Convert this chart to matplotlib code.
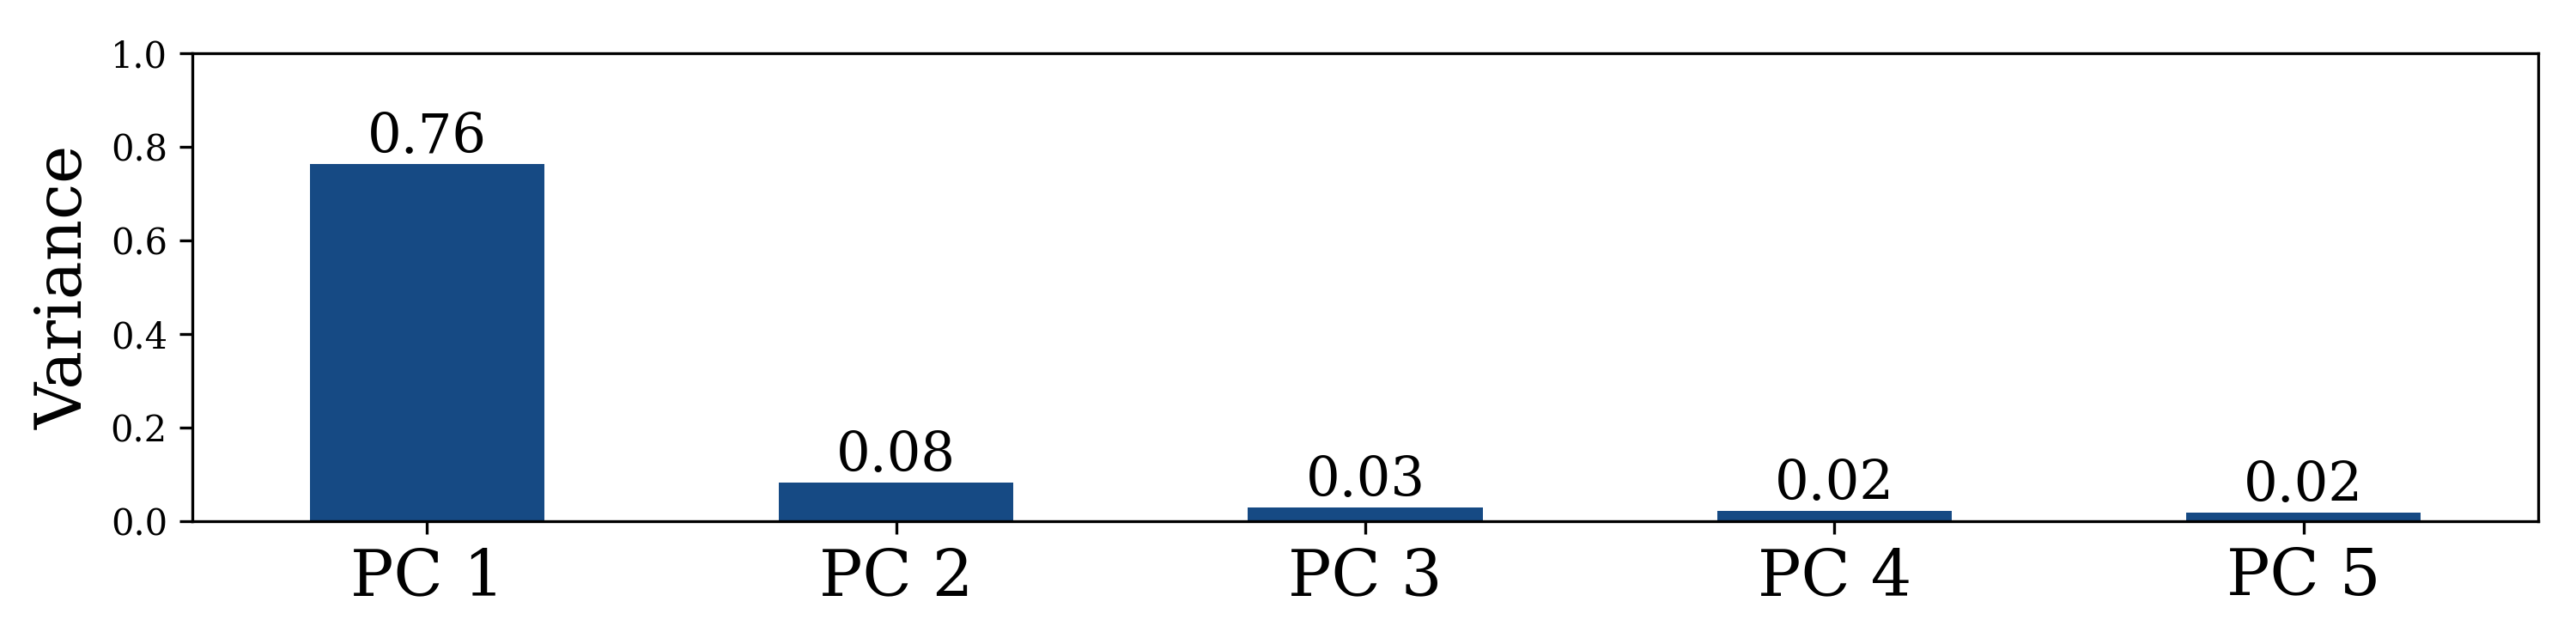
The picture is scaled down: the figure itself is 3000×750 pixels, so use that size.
import numpy as np
import matplotlib
matplotlib.use("Agg")
import matplotlib.pyplot as plt

plt.rcParams['font.family'] = 'DejaVu Serif'

components = ["PC 1", "PC 2", "PC 3", "PC 4", "PC 5"]
variance = [0.763, 0.083, 0.029, 0.022, 0.018]
labels = ["0.76", "0.08", "0.03", "0.02", "0.02"]

fig, ax = plt.subplots(figsize=(10, 2.5), dpi=300)
fig.subplots_adjust(left=0.0747, right=0.9853, top=0.9173, bottom=0.1907)

x_axis = np.arange(len(components))
ax.bar(x_axis, variance, width=0.5, color='#164a84')
for i, v in enumerate(variance):
	ax.text(x_axis[i], v, labels[i], ha='center', va='bottom', fontsize=15)

ax.set_xlim(-0.5, len(components) - 0.5)
ax.set_ylim(0, 1)
ax.set_xticks(x_axis)
ax.set_xticklabels(components, fontsize=18)
ax.set_ylabel("Variance", fontsize=18)

fig.savefig("out.png")
